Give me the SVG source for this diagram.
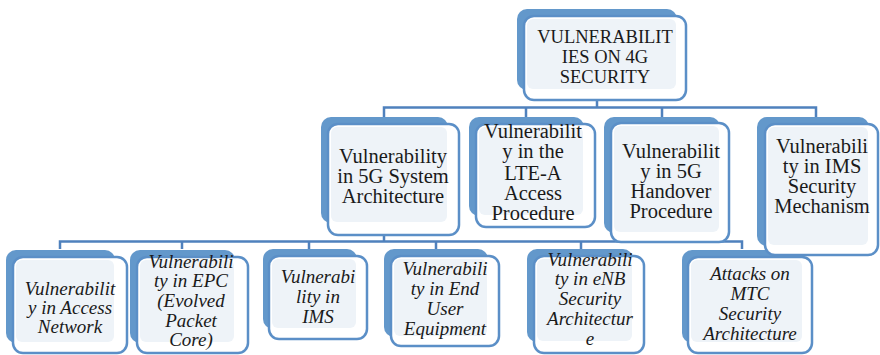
<svg xmlns="http://www.w3.org/2000/svg" width="880" height="355" viewBox="0 0 880 355">
<style>
.back{fill:#6398CB}
.front{fill:#FFFFFF;stroke:#5B8FC7;stroke-width:2.5}
.light{fill:#EEF3F8}
.conn{stroke:#4F81BD;stroke-width:2.5;fill:none}
.t,.tt,.ti{font-family:'Liberation Serif','Times New Roman',serif;fill:#1a1a1a;text-anchor:middle}
.t{font-size:20.5px}
.tt{font-size:18.5px}
.ti{font-size:19px;font-style:italic}
</style>
<rect width="880" height="355" fill="#FFFFFF"/>
<g id="connectors">
<path class="conn" d="M597,95 V107.5 M384,117 V107.5 H816 V117 M526,107.5 V117 M662,107.5 V117"/>
<path class="conn" d="M384,230 V241.5 M60,249 V241.5 H742 V249 M182,241.5 V249 M309,241.5 V249 M436,241.5 V249 M581,241.5 V249"/>
</g>
<g id="n_root">
<rect class="back" x="517" y="9" width="160" height="81" rx="10"/>
<rect class="front" x="524" y="16" width="162" height="84" rx="10"/>
<rect class="light" x="527" y="19" width="149" height="70" rx="6"/>
<text class="tt"><tspan x="605" y="43">VULNERABILIT</tspan><tspan x="605" y="63">IES ON 4G</tspan><tspan x="605" y="83">SECURITY</tspan></text>
</g>
<g id="n_access">
<rect class="back" x="6" y="250" width="109" height="93" rx="10"/>
<rect class="front" x="13" y="257" width="114" height="96" rx="10"/>
<rect class="light" x="16" y="260" width="98" height="82" rx="6"/>
<text class="ti"><tspan x="70" y="295">Vulnerabilit</tspan><tspan x="70" y="314">y in Access</tspan><tspan x="70" y="333">Network</tspan></text>
</g>
<g id="n_epc">
<rect class="back" x="130" y="250" width="105" height="93" rx="10"/>
<rect class="front" x="137" y="257" width="111" height="96" rx="10"/>
<rect class="light" x="140" y="260" width="94" height="82" rx="6"/>
<text class="ti"><tspan x="191" y="268">Vulnerabili</tspan><tspan x="191" y="287">ty in EPC</tspan><tspan x="191" y="307">(Evolved</tspan><tspan x="191" y="327">Packet</tspan><tspan x="191" y="346">Core)</tspan></text>
</g>
<g id="n_ims">
<rect class="back" x="263" y="249" width="94" height="80" rx="10"/>
<rect class="front" x="269" y="256" width="98" height="83" rx="10"/>
<rect class="light" x="272" y="259" width="84" height="69" rx="6"/>
<text class="ti"><tspan x="318" y="283">Vulnerabi</tspan><tspan x="318" y="303">lity in</tspan><tspan x="318" y="323">IMS</tspan></text>
</g>
<g id="n_user">
<rect class="back" x="384" y="249" width="104" height="88" rx="10"/>
<rect class="front" x="391" y="256" width="108" height="90" rx="10"/>
<rect class="light" x="394" y="259" width="93" height="77" rx="6"/>
<text class="ti"><tspan x="445" y="275">Vulnerabili</tspan><tspan x="445" y="295">ty in End</tspan><tspan x="445" y="315">User</tspan><tspan x="445" y="335">Equipment</tspan></text>
</g>
<g id="n_enb">
<rect class="back" x="527" y="249" width="106" height="93" rx="10"/>
<rect class="front" x="534" y="256" width="110" height="97" rx="10"/>
<rect class="light" x="537" y="259" width="95" height="82" rx="6"/>
<text class="ti"><tspan x="590" y="266">Vulnerabili</tspan><tspan x="590" y="285">ty in eNB</tspan><tspan x="590" y="305">Security</tspan><tspan x="590" y="325">Architectur</tspan><tspan x="590" y="345">e</tspan></text>
</g>
<g id="n_mtc">
<rect class="back" x="682" y="250" width="121" height="93" rx="10"/>
<rect class="front" x="688" y="257" width="124" height="96" rx="10"/>
<rect class="light" x="691" y="260" width="111" height="82" rx="6"/>
<text class="ti"><tspan x="750" y="280">Attacks on</tspan><tspan x="750" y="300">MTC</tspan><tspan x="750" y="320">Security</tspan><tspan x="750" y="340">Architecture</tspan></text>
</g>
<g id="n_5g">
<rect class="back" x="321" y="117" width="127" height="106" rx="10"/>
<rect class="front" x="328" y="124" width="131" height="111" rx="10"/>
<rect class="light" x="331" y="127" width="116" height="95" rx="6"/>
<text class="t"><tspan x="393" y="163">Vulnerability</tspan><tspan x="393" y="183">in 5G System</tspan><tspan x="393" y="203">Architecture</tspan></text>
</g>
<g id="n_lte">
<rect class="back" x="469" y="117" width="115" height="99" rx="10"/>
<rect class="front" x="476" y="124" width="119" height="103" rx="10"/>
<rect class="light" x="479" y="127" width="104" height="88" rx="6"/>
<text class="t"><tspan x="533" y="138">Vulnerabilit</tspan><tspan x="533" y="158">y in the</tspan><tspan x="533" y="180">LTE-A</tspan><tspan x="533" y="200">Access</tspan><tspan x="533" y="220">Procedure</tspan></text>
</g>
<g id="n_handover">
<rect class="back" x="604" y="117" width="116" height="116" rx="10"/>
<rect class="front" x="611" y="123" width="118" height="119" rx="10"/>
<rect class="light" x="614" y="126" width="105" height="106" rx="6"/>
<text class="t"><tspan x="671" y="158">Vulnerabilit</tspan><tspan x="671" y="178">y in 5G</tspan><tspan x="671" y="198">Handover</tspan><tspan x="671" y="218">Procedure</tspan></text>
</g>
<g id="n_imssec">
<rect class="back" x="757" y="117" width="112" height="129" rx="10"/>
<rect class="front" x="765" y="124" width="113" height="131" rx="10"/>
<rect class="light" x="768" y="127" width="100" height="118" rx="6"/>
<text class="t"><tspan x="822" y="153">Vulnerabili</tspan><tspan x="822" y="173">ty in IMS</tspan><tspan x="822" y="193">Security</tspan><tspan x="822" y="213">Mechanism</tspan></text>
</g>
</svg>
